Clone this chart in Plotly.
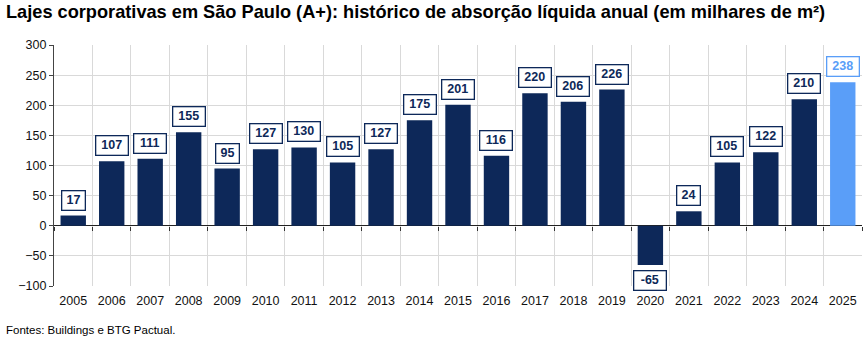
import plotly.graph_objects as go

# Absorção líquida anual, lajes corporativas A+ em São Paulo (milhares de m²)
years = [str(y) for y in range(2005, 2026)]
values = [17, 107, 111, 155, 95, 127, 130, 105, 127, 175, 201, 116,
          220, 206, 226, -65, 24, 105, 122, 210, 238]
y_ticks = [300, 250, 200, 150, 100, 50, 0, -50, -100]

NAVY = "#0d2859"
LIGHT = "#5a9ef8"
FONT = "Liberation Sans, Arial, sans-serif"

bar_colors = [LIGHT if y == "2025" else NAVY for y in years]

fig = go.Figure()
fig.add_trace(go.Bar(
    x=years, y=values, marker=dict(color=bar_colors, line=dict(width=0)),
    width=0.66, hoverinfo="x+y", showlegend=False,
))
# helper trace so the zero-line tick axis is drawn
fig.add_trace(go.Scatter(
    x=years, y=[0] * len(years), xaxis="x2", mode="markers",
    marker=dict(opacity=0), hoverinfo="skip", showlegend=False,
))

# value boxes: category axes position annotations by category index
for i, (v, c) in enumerate(zip(values, bar_colors)):
    label = str(v)
    fig.add_annotation(
        xref="x", yref="y",
        x=i, y=v, text=f"<b>{label}</b>", showarrow=False,
        yanchor="bottom" if v >= 0 else "top",
        yshift=5 if v >= 0 else -5,
        width=8.5 * len(label) + 1.5,
        font=dict(family=FONT, size=12.5, color=c),
        bgcolor="white", bordercolor=c, borderwidth=1.3, borderpad=2,
    )

fig.add_annotation(
    xref="paper", yref="paper", x=-50 / 808, y=1 + 33 / 241,
    xanchor="left", yanchor="middle", showarrow=False,
    text="<b>Lajes corporativas em São Paulo (A+): histórico de absorção líquida anual (em milhares de m²)</b>",
    font=dict(family=FONT, size=18.2, color="black"),
)
fig.add_annotation(
    xref="paper", yref="paper", x=-50 / 808, y=-44 / 241,
    xanchor="left", yanchor="middle", showarrow=False,
    text="Fontes: Buildings e BTG Pactual.",
    font=dict(family=FONT, size=11.5, color="black"),
)

fig.update_layout(
    width=864, height=341,
    margin=dict(l=54, r=2, t=45, b=55),
    paper_bgcolor="white", plot_bgcolor="white",
    font=dict(family=FONT, size=12, color="black"),
    xaxis=dict(
        type="category", tickson="boundaries", showgrid=True,
        gridcolor="#d9d9d9", gridwidth=1, ticks="", showline=False,
        tickfont=dict(size=12.5, color="#111"), range=[-0.5, 20.5],
        ticklabelstandoff=5,
    ),
    xaxis2=dict(
        type="category", overlaying="x", anchor="free", position=0.25,
        tickson="boundaries", ticks="outside", ticklen=4,
        tickcolor="#333", showticklabels=False, showgrid=False,
        showline=False, range=[-0.5, 20.5],
    ),
    yaxis=dict(
        range=[-100, 300], tickvals=y_ticks, showgrid=True,
        gridcolor="#d9d9d9", gridwidth=1, zeroline=True,
        zerolinecolor="#222", zerolinewidth=1.2,
        showline=True, linecolor="#444", linewidth=1.2,
        ticks="outside", ticklen=4, tickcolor="#444",
        tickfont=dict(size=12.5, color="#111"),
    ),
)

fig.write_html("out.html")
